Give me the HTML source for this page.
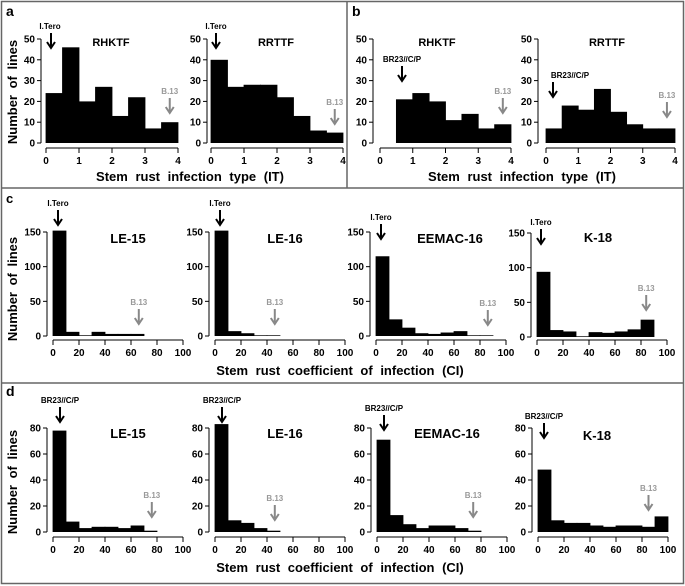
<!DOCTYPE html>
<html><head><meta charset="utf-8"><style>
body{margin:0;background:#fff}
svg{display:block;font-family:"Liberation Sans",sans-serif;font-weight:bold}
</style></head><body>
<svg id="fig" width="685" height="586" viewBox="0 0 685 586">
<rect x="1.5" y="1.5" width="682" height="582" fill="none" stroke="#666" stroke-width="1.5"/>
<line x1="347" y1="1" x2="347" y2="188" stroke="#666" stroke-width="1.5"/>
<line x1="1" y1="188" x2="684" y2="188" stroke="#666" stroke-width="1.5"/>
<line x1="1" y1="383" x2="684" y2="383" stroke="#666" stroke-width="1.5"/>
<text x="6" y="16" font-size="14">a</text>
<text x="352" y="16" font-size="14">b</text>
<text x="6" y="203" font-size="13">c</text>
<text x="6" y="396" font-size="14">d</text>
<text transform="translate(17,92) rotate(-90)" text-anchor="middle" font-size="13" word-spacing="3">Number of lines</text>
<text transform="translate(17,289) rotate(-90)" text-anchor="middle" font-size="13" word-spacing="3">Number of lines</text>
<text transform="translate(17,482) rotate(-90)" text-anchor="middle" font-size="13" word-spacing="3">Number of lines</text>
<text x="190" y="181" text-anchor="middle" font-size="13" word-spacing="4">Stem rust infection type (IT)</text>
<text x="522" y="181" text-anchor="middle" font-size="13" word-spacing="4">Stem rust infection type (IT)</text>
<text x="340" y="375" text-anchor="middle" font-size="13" word-spacing="4">Stem rust coefficient of infection (CI)</text>
<text x="340" y="572" text-anchor="middle" font-size="13" word-spacing="4">Stem rust coefficient of infection (CI)</text>
</svg>
<script>
// data arrays
const itTicks = [0,1,2,3,4];
const ciTicks = [0,20,40,60,80,100];
const aRHKTF = [24,46,20,27,13,22,7,10];
const aRRTTF = [40,27,28,28,22,13,6,5];
const bRHKTF = [0,21,24,20,11,14,7,9];
const bRRTTF = [7,18,16,26,15,9,7,7];
const cLE15 = [152,6,1,6,3,3,3];
const cLE16 = [152,7,4,1,1];
const cEEMAC16 = [115,24,12,4,3,5,7,1,1];
const cK18 = [94,10,8,1,7,6,8,11,25];
const dLE15 = [78,8,3,4,4,3,5,1];
const dLE16 = [83,9,7,3,1];
const dEEMAC16 = [71,13,6,3,5,5,3,1];
const dK18 = [48,9,7,7,5,4,5,5,4,12];
const itYTicks = [0,10,20,30,40,50];
const cYTicks = [0,50,100,150];
const dYTicks = [0,20,40,60,80];

const svg = document.getElementById('fig');
const NS = 'http://www.w3.org/2000/svg';
function mk(tag, attrs){const e=document.createElementNS(NS,tag);for(const k in attrs)e.setAttribute(k,attrs[k]);svg.appendChild(e);return e;}

function chart(o){
  const xs = v => o.x0 + (v - o.xmin)/(o.xmax - o.xmin)*(o.x1 - o.x0);
  const ys = v => o.y0 - v/o.ymax*(o.y0 - o.y1);
  // bars
  o.vals.forEach((v,i)=>{
    if(v<=0) return;
    const a = xs(o.xmin + i*o.bin), b = xs(o.xmin + (i+1)*o.bin);
    const r = mk('rect',{x:a-0.4,y:ys(v),width:b-a+0.8,height:ys(0)-ys(v),fill:'#000'});
    
    
  });
  // y axis
  const ya = mk('line',{x1:o.yax,y1:ys(0),x2:o.yax,y2:ys(o.ymax),stroke:'#000','stroke-width':1});
  
  
  o.yt.forEach(t=>{
    mk('line',{x1:o.yax-4,y1:ys(t),x2:o.yax,y2:ys(t),stroke:'#000'});
    const tx = mk('text',{x:o.yax-6,y:ys(t)+3.5,'text-anchor':'end','font-size':10});
    tx.textContent = t;
    
    
  });
  // x axis
  const xa = mk('line',{x1:o.x0,y1:o.xay,x2:o.x1,y2:o.xay,stroke:'#000'});
  
  
  o.xt.forEach(t=>{
    mk('line',{x1:xs(t),y1:o.xay,x2:xs(t),y2:o.xay+5,stroke:'#000'});
    const tx = mk('text',{x:xs(t),y:o.xay+16,'text-anchor':'middle','font-size':10});
    tx.textContent = t;
    
    
  });
  const ti = mk('text',{x:o.tx,y:o.ty,'text-anchor':'middle','font-size':o.tfs||11});
  ti.textContent = o.title;
  
  
  // parent arrow
  const pl = mk('text',{x:o.px,y:o.py,'text-anchor':'middle','font-size':8});
  pl.textContent = o.parent;
  
  
  mk('line',{x1:o.pax,y1:o.py+4,x2:o.pax,y2:o.py+17,stroke:'#000','stroke-width':2});
  mk('path',{d:`M${o.pax-4},${o.py+13} L${o.pax},${o.py+19} L${o.pax+4},${o.py+13}`,fill:'none',stroke:'#000','stroke-width':2});
  // B.13
  const bx = xs(o.bv), by = o.by;
  const bl = mk('text',{x:bx,y:by,'text-anchor':'middle','font-size':8,fill:'#999'});
  bl.textContent = 'B.13';
  
  
  mk('line',{x1:bx,y1:by+4,x2:bx,y2:by+17,stroke:'#888','stroke-width':2});
  mk('path',{d:`M${bx-4},${by+13} L${bx},${by+19} L${bx+4},${by+13}`,fill:'none',stroke:'#888','stroke-width':2});
}

const itY = {y0:143,y1:39,ymax:50,xay:148,yt:itYTicks,xt:itTicks,xmin:0,xmax:4,bin:0.5,ty:46};
chart(Object.assign({},itY,{name:'a-rhktf',vals:aRHKTF,x0:46,x1:178,yax:41,title:'RHKTF',tx:111,parent:'I.Tero',px:50,py:29,pax:51,bv:3.75,by:94}));
chart(Object.assign({},itY,{name:'a-rrttf',vals:aRRTTF,x0:211,x1:343,yax:207,title:'RRTTF',tx:276,parent:'I.Tero',px:216,py:29,pax:216,bv:3.75,by:105}));
chart(Object.assign({},itY,{name:'b-rhktf',vals:bRHKTF,x0:380,x1:511,yax:373,title:'RHKTF',tx:437,parent:'BR23//C/P',px:402,py:62,pax:402,bv:3.75,by:94}));
chart(Object.assign({},itY,{name:'b-rrttf',vals:bRRTTF,x0:546,x1:675,yax:538,title:'RRTTF',tx:607,parent:'BR23//C/P',px:570,py:78,pax:553,bv:3.75,by:98}));

const cY = {y0:336,y1:232,ymax:150,xay:340,yt:cYTicks,xt:ciTicks,xmin:0,xmax:100,bin:10,tfs:13};
chart(Object.assign({},cY,{name:'c-le15',vals:cLE15,x0:53,x1:183,yax:47,title:'LE-15',tx:128,ty:243,parent:'I.Tero',px:58,py:206,pax:58,bv:66,by:305}));
chart(Object.assign({},cY,{name:'c-le16',vals:cLE16,x0:215,x1:345,yax:209,title:'LE-16',tx:285,ty:243,parent:'I.Tero',px:220,py:206,pax:220,bv:46,by:305}));
chart(Object.assign({},cY,{name:'c-eemac16',vals:cEEMAC16,x0:376,x1:506,yax:370,title:'EEMAC-16',tx:450,ty:243,parent:'I.Tero',px:381,py:220,pax:381,bv:86,by:306}));
chart(Object.assign({},cY,{name:'c-k18',vals:cK18,x0:537,x1:667,y0:337,y1:233,yax:531,title:'K-18',tx:598,ty:242,parent:'I.Tero',px:541,py:225,pax:541,bv:84,by:291}));

const dY = {y0:532,y1:428,ymax:80,xay:537,yt:dYTicks,xt:ciTicks,xmin:0,xmax:100,bin:10,tfs:13};
chart(Object.assign({},dY,{name:'d-le15',vals:dLE15,x0:53,x1:183,yax:47,title:'LE-15',tx:128,ty:438,parent:'BR23//C/P',px:60,py:403,pax:60,bv:76,by:498}));
chart(Object.assign({},dY,{name:'d-le16',vals:dLE16,x0:215,x1:345,yax:209,title:'LE-16',tx:285,ty:438,parent:'BR23//C/P',px:222,py:403,pax:222,bv:46,by:501}));
chart(Object.assign({},dY,{name:'d-eemac16',vals:dEEMAC16,x0:377,x1:507,yax:371,title:'EEMAC-16',tx:447,ty:438,parent:'BR23//C/P',px:384,py:411,pax:384,bv:74,by:498}));
chart(Object.assign({},dY,{name:'d-k18',vals:dK18,x0:538,x1:668,yax:532,title:'K-18',tx:597,ty:440,parent:'BR23//C/P',px:544,py:419,pax:544,bv:85,by:491}));
</script>
</body></html>
